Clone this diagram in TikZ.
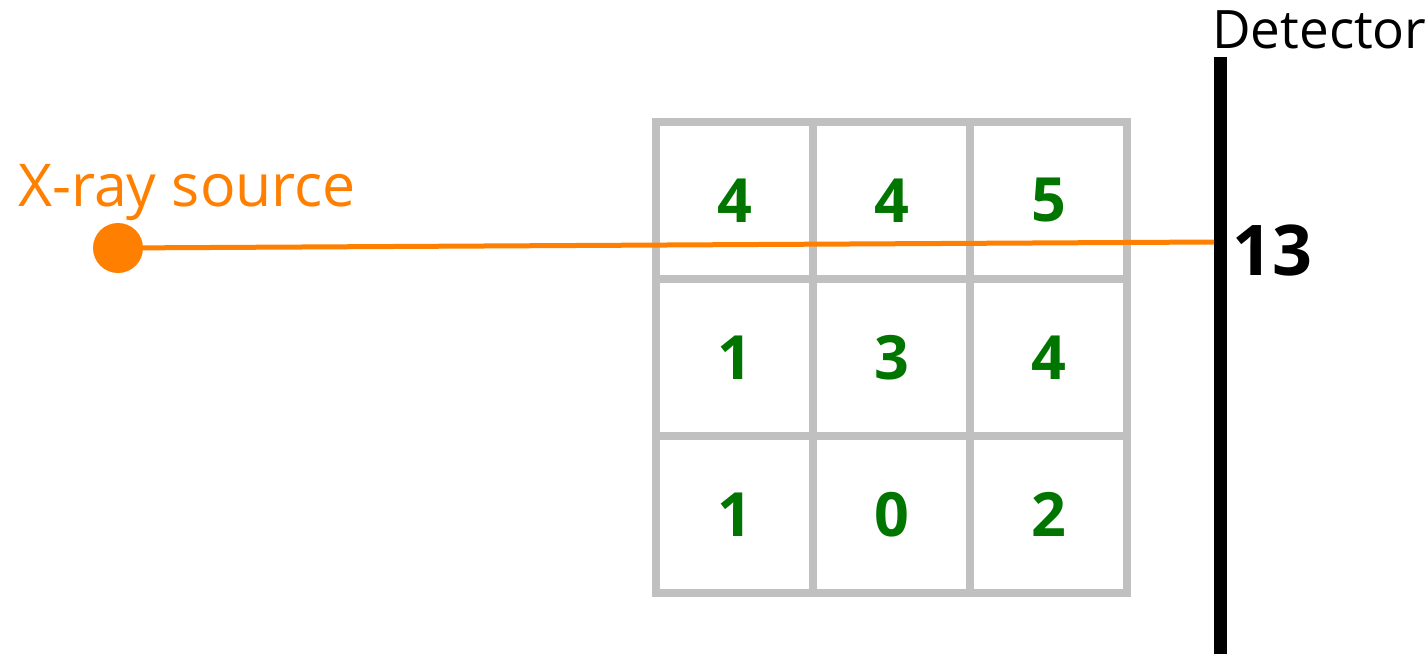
\documentclass[tikz,border=0pt]{standalone}
\usepackage{fontspec}
\setmainfont{Open Sans}
\usetikzlibrary{positioning}
\definecolor{rayorange}{RGB}{255,127,0}
\definecolor{cellgray}{RGB}{191,192,191}
\definecolor{valgreen}{RGB}{0,118,0}

\begin{document}
\begin{tikzpicture}[x=1pt, y=-1pt, node distance=0pt,
  cell/.style={draw=cellgray, line width=8pt, minimum size=157pt, inner sep=0pt, outer sep=0pt, text=valgreen, font=\fontsize{61}{61}\selectfont\bfseries},
  label/.style={inner sep=0pt, anchor=base west}]
\useasboundingbox (0,0) rectangle (1428,654);
% 3x3 grid of values
\node[cell] (c11) at (734.5,200.5) {4};
\node[cell, right=of c11] (c12) {4};
\node[cell, right=of c12] (c13) {5};
\node[cell, below=of c11] (c21) {1};
\node[cell, right=of c21] (c22) {3};
\node[cell, right=of c22] (c23) {4};
\node[cell, below=of c21] (c31) {1};
\node[cell, right=of c31] (c32) {0};
\node[cell, right=of c32] (c33) {2};
% detector
\coordinate (dettop) at (1220,57);
\coordinate (detbot) at (1220,654);
\draw[line width=13pt] (dettop) -- (detbot);
\node[label, font=\fontsize{53}{53}\selectfont] (detlabel) at (1212,48) {Detector};
\node[label, font=\fontsize{70}{70}\selectfont\bfseries] (sum) at (1232,275) {13};
% source and ray
\node[circle, fill=rayorange, minimum size=50pt, inner sep=0pt] (src) at (118,248) {};
\node[label, text=rayorange, font=\fontsize{59}{59}\selectfont] (srclabel) at (18,206) {X-ray source};
\coordinate (hit) at (1214,242);
\draw[rayorange, line width=5pt] (src) -- (hit);
\end{tikzpicture}
\end{document}
